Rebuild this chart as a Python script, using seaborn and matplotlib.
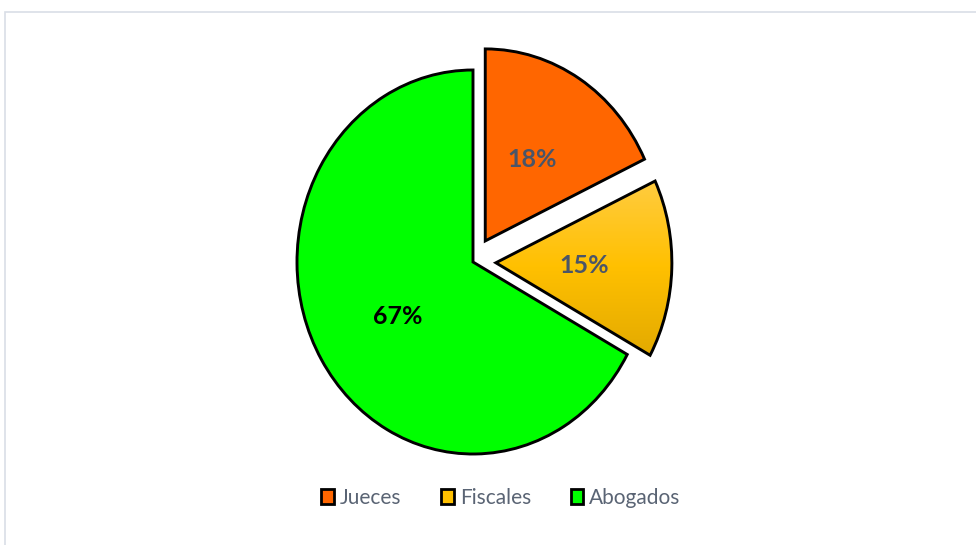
import numpy as np
import matplotlib
matplotlib.use("Agg")
import matplotlib.pyplot as plt
import seaborn as sns
from matplotlib.patches import Patch, Rectangle
from matplotlib.colors import LinearSegmentedColormap

# Distribution of respondents by role
categories = ["Jueces", "Fiscales", "Abogados"]
shares = [18, 15, 67]
explode = [0.13, 0.13, 0.0]

colors = ["#FF6600", "#FFC000", "#00FF00"]
label_colors = ["#4A5568", "#4A5568", "#000000"]

sns.set_theme(style="white")
plt.rcParams["font.family"] = ["Lato", "DejaVu Sans"]

W, H = 976, 545
fig = plt.figure(figsize=(W / 100, H / 100), dpi=100)
fig.patch.set_facecolor("white")

# Light chart-area frame
fig.add_artist(Rectangle((5 / W, -0.05), 1.1, (H - 12) / H + 0.05,
                         transform=fig.transFigure, fill=False,
                         edgecolor="#D9DEE6", linewidth=1.2))

# Pie axes: center (473, 262) px, radii 176 px horizontally, 192 px vertically
cx, cy, rx, ry = 473, 262, 176, 192
lim = 1.25
ax = fig.add_axes([(cx - lim * rx) / W, (H - cy - lim * ry) / H,
                   2 * lim * rx / W, 2 * lim * ry / H])

wedges, texts, autotexts = ax.pie(
    shares, explode=explode, colors=colors, startangle=90, counterclock=False,
    autopct="%1.0f%%", pctdistance=0.5,
    wedgeprops=dict(edgecolor="black", linewidth=2.1),
)
for t, c in zip(autotexts, label_colors):
    t.set_color(c)
    t.set_fontsize(18)
    t.set_fontweight("bold")
autotexts[2].set_y(autotexts[2].get_position()[1] - 0.03)

# Vertical gold gradient on the Fiscales slice
gold = LinearSegmentedColormap.from_list("gold", ["#FFCC40", "#FFC000", "#E3AA00"])
w = wedges[1]
ext = w.get_path().get_extents()
grad = np.linspace(0, 1, 256).reshape(-1, 1)
img = ax.imshow(grad, cmap=gold, extent=(ext.x0, ext.x1, ext.y0, ext.y1),
                origin="upper", aspect="auto", zorder=1.5)
img.set_clip_path(w)
w.set_facecolor("none")
w.set_zorder(2)
for t in autotexts:
    t.set_zorder(3)

ax.set_xlim(-lim, lim)
ax.set_ylim(-lim, lim)
ax.set_aspect("auto")
ax.axis("off")

handles = [Patch(facecolor=c, edgecolor="black", linewidth=2.0) for c in colors]
fig.legend(handles, categories, loc="center", bbox_to_anchor=(501 / W, 1 - 498 / H),
           ncol=3, frameon=False, fontsize=15, labelcolor="#5A6474",
           handlelength=0.6, handleheight=0.7, handletextpad=0.3,
           columnspacing=1.9)

fig.savefig("out.png", dpi=100)
